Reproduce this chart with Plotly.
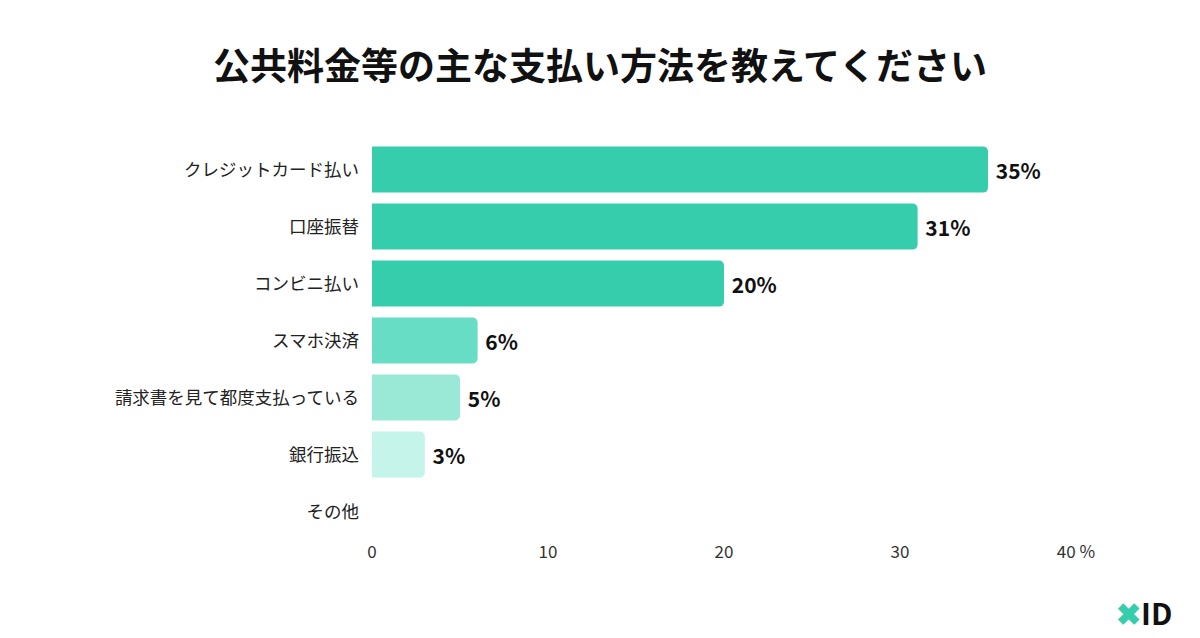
import plotly.graph_objects as go

categories = ["クレジットカード払い", "口座振替", "コンビニ払い", "スマホ決済",
              "請求書を見て都度支払っている", "銀行振込", "その他"]
values = [35, 31, 20, 6, 5, 3, 0]
labels = [" 35%", " 31%", " 20%", " 6%", " 5%", " 3%", ""]
colors = ["#35CDAC", "#35CDAC", "#35CDAC", "#66DDC4", "#9AE9D7", "#C4F4EA", "#E0FAF4"]
tick_vals = [0, 10, 20, 30, 40]
tick_text = ["0", "10", "20", "30", "40 %"]

FONT = "Noto Sans CJK JP"

fig = go.Figure(go.Bar(
    x=values, y=categories, orientation="h",
    marker=dict(color=colors, cornerradius=5, line=dict(width=0)),
    text=labels, textposition="outside", cliponaxis=False,
    textfont=dict(family=FONT, size=21, color="#111111", weight="bold"),
    width=0.81,
))

fig.update_layout(
    width=1200, height=638,
    paper_bgcolor="white", plot_bgcolor="white",
    margin=dict(l=372, r=124, t=141, b=98),
    showlegend=False,
    title=dict(text="<b>公共料金等の主な支払い方法を教えてください</b>",
               x=0.5, xanchor="center", y=0.895, yanchor="middle",
               font=dict(family=FONT, size=37, color="#111111")),
    font=dict(family=FONT, color="#333333"),
)
fig.update_xaxes(range=[0, 40], tickvals=tick_vals, ticktext=tick_text,
                 showgrid=False, zeroline=False, showline=False,
                 tickfont=dict(family=FONT, size=17, color="#333333"))
fig.update_yaxes(autorange="reversed", showgrid=False, zeroline=False, showline=False,
                 ticklabelstandoff=12,
                 tickfont=dict(family=FONT, size=17.5, color="#222222"))

fig.add_annotation(
    text="<span style='color:#35CDAC'><b>✖</b></span><b>ID</b>",
    xref="paper", yref="paper", x=(1144 - 372) / 704, y=-(612 - 540) / 400,
    xanchor="center", yanchor="middle", showarrow=False,
    font=dict(family=FONT, size=30, color="#111111"),
)

fig.write_html("out.html")
